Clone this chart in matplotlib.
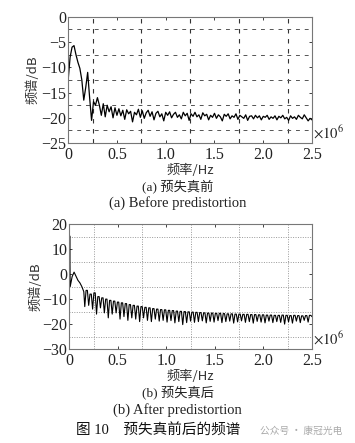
import matplotlib
matplotlib.use("Agg")
import matplotlib.pyplot as plt
import numpy as np

plt.rcParams['font.family'] = ['Liberation Serif', 'Noto Sans CJK SC']
plt.rcParams['mathtext.fontset'] = 'stix'

# (a) spectrum before predistortion, dB, sampled every 0.02 MHz from 0 to 2.5 MHz
spec_before = [
    -12.5, -8.0, -6.0, -5.7, -7.5, -9.0, -10.2, -12.5, -16.5, -14.0,
    -11.0, -16.0, -20.5, -16.8, -17.5, -16.0, -17.5, -19.5, -17.2, -19.8,
    -17.5, -18.8, -17.8, -20.0, -18.0, -19.5,
    -18.2, -19.6, -18.5, -20.3, -18.4, -19.2, -18.7, -20.8, -18.9, -19.4,
    -18.3, -19.9, -18.6, -20.1, -19.0, -18.5, -19.7, -18.8, -20.4, -19.1,
    -18.7, -19.8, -19.2, -20.6, -18.9, -19.5, -18.8, -20.0, -19.3, -18.9,
    -19.9, -19.4, -20.2, -18.9, -19.6, -19.1, -20.5, -19.2, -19.7, -18.9,
    -19.8, -19.4, -20.3, -19.0, -19.6, -19.3, -20.4, -19.5, -19.9, -19.1,
    -20.1, -19.4, -19.8, -20.6, -19.3, -19.7, -19.2, -20.2, -19.6, -19.9,
    -19.2, -20.3, -19.5, -19.8, -20.1, -19.4, -20.5, -19.7, -19.6, -20.2,
    -19.5, -20.0, -19.6, -20.4, -19.7, -19.9, -19.5, -20.3, -19.8, -20.1,
    -19.6, -20.4, -19.7, -20.0, -19.5, -20.2, -19.9, -20.5, -19.6, -20.1,
    -19.8, -20.3, -19.5, -19.9, -20.2, -19.4, -20.0, -20.6, -20.1, -20.4,
]

# (b) spectrum after predistortion: low-frequency head, then comb of scallops
head_freq = [0.0, 0.005, 0.01, 0.03, 0.05, 0.07, 0.09, 0.11, 0.13, 0.15]
head_db = [-5.0, 15.3, -5.0, -1.0, 0.8, -0.8, -2.5, -3.5, -5.0, -7.0]
scallop_peaks = [
    -6.5, -8.0, -7.5, -9.0, -9.5, -10.0, -10.5, -10.8, -11.2, -11.5,
    -11.8, -12.2, -12.5, -12.8, -13.0, -13.3, -13.5, -13.8, -14.0, -14.2,
    -14.3, -14.5, -14.6, -14.8, -14.9, -15.0, -15.1, -15.2, -15.3, -15.4,
    -15.5, -15.6, -15.6, -15.7, -15.7, -15.8, -15.9, -15.9, -16.0, -16.0,
    -16.1, -16.1, -16.2, -16.2, -16.3, -16.3, -16.4, -16.4, -16.5, -16.5,
    -16.4, -16.5, -16.6, -16.5, -16.6, -16.7, -16.6, -16.5,
]
scallop_dips = [
    -13.0, -12.5, -14.0, -16.0, -13.5, -15.5, -17.5, -16.0, -15.5, -18.0,
    -17.0, -18.5, -17.5, -18.0, -19.0, -17.5, -18.5, -19.0, -18.0, -18.8,
    -18.5, -19.2, -18.6, -19.5, -19.0, -20.2, -19.4, -18.8, -19.3, -19.0,
    -18.7, -19.5, -18.9, -19.2, -18.6, -19.4, -19.0, -18.8, -19.6, -19.1,
    -18.7, -19.3, -19.0, -19.6, -18.9, -19.2, -19.5, -18.8, -19.4, -19.0,
    -19.3, -20.0, -19.1, -19.6, -18.8, -19.4, -18.5, -19.2,
]
end_db = -17.0

xticks = [0, 0.5e6, 1.0e6, 1.5e6, 2.0e6, 2.5e6]
xticklabels = ['0', '0.5', '1.0', '1.5', '2.0', '2.5']
yticks_a = [0, -5, -10, -15, -20, -25]
yticks_b = [20, 10, 0, -10, -20, -30]

fig = plt.figure(figsize=(3.55, 4.43), dpi=100)
ax1 = fig.add_axes([0.192, 0.677, 0.687, 0.285])
ax2 = fig.add_axes([0.195, 0.212, 0.684, 0.282])

# top panel
f_a = np.linspace(0, 2.5e6, len(spec_before))
ax1.plot(f_a, spec_before, color='black', linewidth=0.9)
ax1.set_ylim(-25, 0)
ax1.set_yticks(yticks_a)
ax1.set_yticks(np.arange(-22.5, 0, 5), minor=True)
ax1.grid(which='minor', axis='y', linestyle=(0, (4, 5)), color='#555555', linewidth=0.7)
ax1.set_xticks(np.arange(0.25e6, 2.5e6, 0.5e6), minor=True)
ax1.grid(which='minor', axis='x', linestyle=(0, (4, 5)), color='#333333', linewidth=0.8)
ax1.set_ylabel('频谱/dB', family=['Noto Sans CJK SC'], fontsize=9.5, color='#333333', labelpad=1)

# bottom panel
n = len(scallop_peaks)
f_s = np.linspace(0.16, 2.5, 3 * n + 1)
db_s = []
for k in range(n):
    db_s += [scallop_dips[k], scallop_peaks[k], scallop_peaks[k]]
db_s.append(end_db)
f_b = np.concatenate([head_freq, f_s]) * 1e6
db_b = np.concatenate([head_db, db_s])
ax2.plot(f_b, db_b, color='black', linewidth=0.8)
ax2.set_ylim(-30, 20)
ax2.set_yticks(yticks_b)
ax2.set_yticks(np.arange(-25, 20, 10), minor=True)
ax2.set_xticks(np.arange(0.25e6, 2.5e6, 0.5e6), minor=True)
ax2.grid(which='minor', linestyle=(0, (1, 1.5)), color='#999999', linewidth=0.7)
ax2.set_ylabel('频谱/dB', family=['Noto Sans CJK SC'], fontsize=9.5, color='#333333', labelpad=0)

for ax in (ax1, ax2):
    ax.set_xlim(0, 2.5e6)
    ax.set_xticks(xticks)
    ax.set_xticklabels(xticklabels)
    ax.tick_params(which='major', direction='in', length=2.5, width=0.6,
                   labelsize=11.5, top=True, right=True, colors='#222222')
    ax.tick_params(axis='x', pad=2.5)
    ax.tick_params(axis='y', pad=1.5)
    ax.tick_params(which='minor', length=0)
    ax.set_axisbelow(True)
    for s in ax.spines.values():
        s.set_color('#777777')
        s.set_linewidth(0.8)
    ax.set_xlabel('频率/Hz', family=['Noto Sans CJK SC', 'Liberation Serif'], fontsize=9.5,
                  color='#333333', labelpad=1)
    ax.text(1.003, 0.08, r'$\times10^6$', transform=ax.transAxes, fontsize=10.5,
            ha='left', va='center', color='#222222')

cjk = ['Liberation Serif', 'Noto Sans CJK SC']
fig.text(0.5, 1 - 186 / 443, '(a) 预失真前', ha='center', va='center', fontsize=9.5,
         family=cjk, color='#222222')
fig.text(0.5, 1 - 203 / 443, '(a) Before predistortion', ha='center', va='center',
         fontsize=10.5, color='#222222')
fig.text(0.5, 1 - 392 / 443, '(b) 预失真后', ha='center', va='center', fontsize=9.5,
         family=cjk, color='#222222')
fig.text(0.5, 1 - 410 / 443, '(b) After predistortion', ha='center', va='center',
         fontsize=10.5, color='#222222')
fig.text(0.215, 1 - 431 / 443, '图 10    预失真前后的频谱', ha='left', va='center',
         fontsize=10.5, family=cjk, color='#111111')
fig.text(0.965, 1 - 431 / 443, '公众号 · 康冠光电', ha='right', va='center',
         fontsize=7, family=['Noto Sans CJK SC'], color='#aaaaaa')

fig.savefig('out.png', dpi=100)
